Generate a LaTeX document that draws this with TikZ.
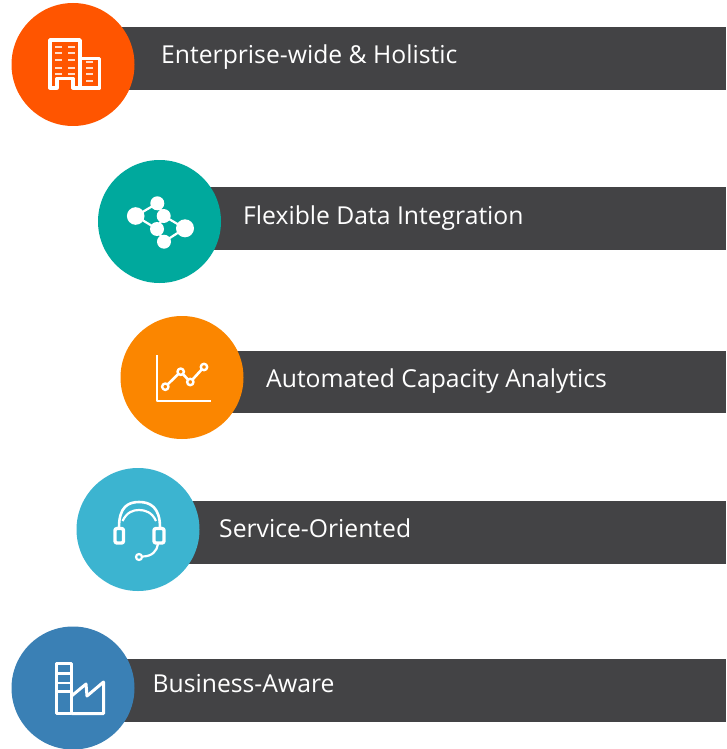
\documentclass[tikz,border=0pt]{standalone}
\usepackage{fontspec}
\setmainfont{Open Sans}
\definecolor{barc}{HTML}{434345}
\definecolor{c1}{HTML}{FF5500}
\definecolor{c2}{HTML}{00A99D}
\definecolor{c3}{HTML}{FB8600}
\definecolor{c4}{HTML}{3CB4D0}
\definecolor{c5}{HTML}{3A80B5}
\tikzset{
  disc/.style={circle,inner sep=0pt,outer sep=0pt,minimum size=123pt,fill=#1},
  lab/.style={anchor=base west,inner sep=0pt,text=white,font=\fontsize{24.7pt}{29pt}\selectfont},
  bar/.style={fill=barc,draw=none},
  ico/.style={draw=white,line width=#1,line join=round},
  ico/.default=2pt
}
\begin{document}
\begin{tikzpicture}[x=1pt,y=-1pt]
\useasboundingbox[fill=white] (0,0) rectangle (726,749);
% bars
\fill[bar] (73,27) rectangle (726,90);
\fill[bar] (159,187) rectangle (726,250);
\fill[bar] (182,351) rectangle (726,413);
\fill[bar] (138,501) rectangle (726,564);
\fill[bar] (73,659) rectangle (726,722);
% discs
\node[disc=c1] (d1) at (73,64.5) {};
\node[disc=c2] (d2) at (159.5,221.5) {};
\node[disc=c3] (d3) at (182,377.5) {};
\node[disc=c4] (d4) at (138,529.5) {};
\node[disc=c5] (d5) at (73,688) {};
% labels
\node[lab] (t1) at (161,64) {Enterprise-wide \& Holistic};
\node[lab] (t2) at (243,224) {Flexible Data Integration};
\node[lab] (t3) at (266,387) {Automated Capacity Analytics};
\node[lab] (t4) at (219,537) {Service-Oriented};
\node[lab] (t5) at (152.5,692) {Business-Aware};
% building icon
\draw[ico=3.6pt] (57,87.8) -- (50,87.8) -- (50,40) -- (80,40) -- (80,87.8) -- (73,87.8) -- (73,78.5) -- (57,78.5) -- cycle;
\draw[ico=3.6pt] (80,58.5) -- (99.5,58.5) -- (99.5,87.8) -- (73,87.8);
\foreach \yy in {47,53,60,68,74}{
  \draw[white!80!c1,line width=2pt] (55,\yy) -- (61.5,\yy) (68,\yy) -- (75,\yy);
}
\foreach \yy in {62,68,74,81}{
  \draw[white!80!c1,line width=2pt] (86,\yy) -- (93,\yy);
}
% network icon
\begin{scope}
\clip (120,190) rectangle (194,255);
\draw[white,line width=2.2pt] (135.7,216) -- (157.3,203.3) -- (163.7,216) -- (185,228.3) -- (164,241.7) -- (157,229) -- (135.7,216);
\draw[white,line width=2.2pt] (163.7,216) -- (157,229);
\fill[white] (135.7,216) circle (8.8) (185,228.3) circle (9);
\fill[white] (157.3,203.3) circle (7) (163.7,216) circle (7) (157,229) circle (7) (164,241.7) circle (7);
\end{scope}
% chart icon
\draw[ico=2.2pt] (157.3,355) -- (157.3,401.3) -- (211,401.3);
\draw[ico=2.6pt] (165.3,386.7) -- (180.7,371.7) -- (190.3,382) -- (204,367);
\foreach \xx/\yy in {165.3/386.7,180.7/371.7,190.3/382,204/367}{
  \draw[ico=2.4pt,fill=c3] (\xx,\yy) circle (3.2);
}
% headset icon
\draw[ico=2.6pt] (119,527.5) .. controls (119,507) and (128,502) .. (139,502) .. controls (150,502) and (160,507) .. (160,527.5);
\draw[ico=2.2pt] (122.5,521) .. controls (127,512) and (133,510) .. (139,510) .. controls (145,510) and (152,512) .. (156,521);
\draw[ico=3.4pt,rounded corners=2pt] (115,528.5) rectangle (123.5,543);
\draw[ico=3.4pt,rounded corners=2pt] (154,528.5) rectangle (164,543);
\draw[ico=2.2pt] (158,544) .. controls (157,551) and (152,556.5) .. (142.5,556.5);
\draw[ico=2.2pt] (139,557) circle (3);
% factory icon
\draw[ico=3pt] (56,663.5) rectangle (71.5,713.5);
\draw[ico=3pt] (71.5,713.5) -- (103.5,713.5) -- (103.5,682) -- (87,696) -- (86,684) -- (71.5,696);
\draw[ico=2.6pt] (56,673.5) -- (71.5,673.5) (56,683) -- (71.5,683) (56,691.5) -- (71.5,691.5);
\end{tikzpicture}
\end{document}
